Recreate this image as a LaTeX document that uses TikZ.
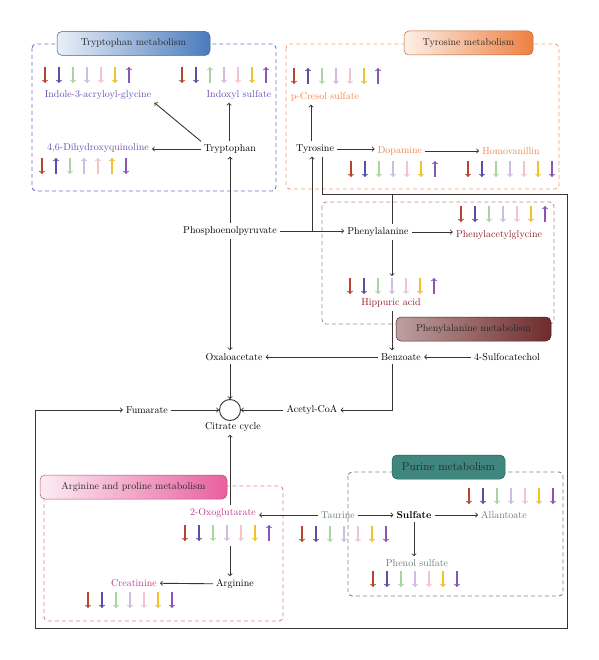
\documentclass[tikz,border=0pt]{standalone}
\usepackage{tikz}
\usetikzlibrary{shapes, arrows}

\definecolor{lnk}{HTML}{3B3331}
\definecolor{mk0}{HTML}{B5452F}
\definecolor{mk1}{HTML}{5B4EA8}
\definecolor{mk2}{HTML}{A9D6A0}
\definecolor{mk3}{HTML}{CDBDE3}
\definecolor{mk4}{HTML}{F2C4CC}
\definecolor{mk5}{HTML}{F2C12E}
\definecolor{mk6}{HTML}{8A55B5}
\definecolor{trpText}{HTML}{6650B0}
\definecolor{tyrText}{HTML}{F0864A}
\definecolor{pheText}{HTML}{8B1E2A}
\definecolor{argText}{HTML}{C0388A}
\definecolor{purText}{HTML}{6B7F72}
\definecolor{trpEdge}{HTML}{7A68C8}
\definecolor{tyrEdge}{HTML}{F4A070}
\definecolor{pheEdge}{HTML}{A89088}
\definecolor{argEdge}{HTML}{D880B0}
\definecolor{purEdge}{HTML}{8A8070}
\definecolor{trpHead}{HTML}{4A7BBE}
\definecolor{tyrHead}{HTML}{EE8040}
\definecolor{pheHead}{HTML}{6E2B2B}
\definecolor{argHead}{HTML}{E8609E}
\definecolor{purHead}{HTML}{2A7A70}

\tikzstyle{met} = [inner sep=3pt, text=black, font=\fontsize{10}{12}\selectfont]
\tikzstyle{trpc} = [met, text=trpText]
\tikzstyle{tyrc} = [met, text=tyrText]
\tikzstyle{phec} = [met, text=pheText]
\tikzstyle{argc} = [met, text=argText]
\tikzstyle{purc} = [met, text=purText]
\tikzstyle{line} = [draw=lnk, line width=0.9pt, ->]
\tikzstyle{wire} = [draw=lnk, line width=0.9pt]
\tikzstyle{frame} = [rounded corners=4pt, line width=0.9pt, dash pattern=on 4pt off 3pt]
\tikzstyle{head} = [rectangle, rounded corners=5pt, line width=0.5pt, minimum height=24pt, text=black!85, font=\fontsize{10}{12}\selectfont]
\tikzstyle{mk} = [line width=1.1pt, ->]

% seven up/down marks centred at (#1,#2), 1 = up, -1 = down
\newcommand{\trend}[3]{%
    \foreach \d [count=\i from 0] in {#3}
        \draw[mk, draw=mk\i] ({#1+(\i-3)*14}, {#2+8*(\d)}) -- ({#1+(\i-3)*14}, {#2-8*(\d)});
}

\begin{document}
\begin{tikzpicture}[x=1pt, y=-1pt, auto]
    \useasboundingbox (0,0) rectangle (598,660);

    % pathway frames
    \draw[frame, trpEdge] (32,44) rectangle (276,191);
    \draw[frame, tyrEdge] (286,44) rectangle (559,189);
    \draw[frame, pheEdge] (322,202) rectangle (554,324);
    \draw[frame, argEdge] (44,486) rectangle (283,621);
    \draw[frame, purEdge] (348,472) rectangle (563,596);

    \node[head, draw=trpHead!80!black, left color=trpHead!12, right color=trpHead, minimum width=153pt] (trpH) at (133.5,43.5) {Tryptophan metabolism};
    \node[head, draw=tyrHead!80!black, left color=tyrHead!12, right color=tyrHead, minimum width=129pt] (tyrH) at (468.5,43) {Tyrosine metabolism};
    \node[head, draw=pheHead!80!black, left color=pheHead!45, middle color=pheHead!8, right color=pheHead, minimum width=155pt] (pheH) at (473.5,329) {Phenylalanine metabolism};
    \node[head, draw=argHead!80!black, left color=argHead!12, right color=argHead, minimum width=187pt] (argH) at (133.5,487) {Arginine and proline metabolism};
    \node[head, draw=purHead!80!black, left color=purHead!90, middle color=purHead!28, right color=purHead!90, minimum width=113pt, font=\fontsize{11.5}{13}\selectfont] (purH) at (448.5,467) {Purine metabolism};

    % compounds
    \node[met] (trp) at (230,149) {Tryptophan};
    \node[trpc] (ind) at (98,95) {Indole-3-acryloyl-glycine};
    \node[trpc] (idx) at (239,95) {Indoxyl sulfate};
    \node[trpc] (dhq) at (98,148) {4,6-Dihydroxyquinoline};
    \node[met] (tyr) at (315,149) {Tyrosine};
    \node[tyrc] (pcs) at (325,97) {p-Cresol sulfate};
    \node[tyrc] (dop) at (400,151) {Dopamine};
    \node[tyrc] (hva) at (511,151) {Homovanillin};
    \node[met] (pep) at (230,231) {Phosphoenolpyruvate};
    \node[met] (phe) at (378,232) {Phenylalanine};
    \node[phec] (pag) at (499,235) {Phenylacetylglycine};
    \node[phec] (hip) at (391,303) {Hippuric acid};
    \node[met] (ben) at (401,357) {Benzoate};
    \node[met] (sfc) at (507,357) {4-Sulfocatechol};
    \node[met] (oxa) at (234,357) {Oxaloacetate};
    \node[circle, draw=lnk, line width=0.9pt, minimum size=21pt, inner sep=0pt] (tca) at (230,410) {};
    \node[met] (tcal) at (233,427) {Citrate cycle};
    \node[met] (fum) at (147,410) {Fumarate};
    \node[met] (aco) at (312,410) {Acetyl-CoA};
    \node[argc] (oxg) at (223,513) {2-Oxoglutarate};
    \node[met] (arg) at (235,584) {Arginine};
    \node[argc] (cre) at (134,583) {Creatinine};
    \node[purc] (tau) at (338,515) {Taurine};
    \node[met, font=\fontsize{10}{12}\selectfont\bfseries] (sul) at (414,515) {Sulfate};
    \node[purc] (all) at (504,515) {Allantoate};
    \node[purc] (phs) at (417,563) {Phenol sulfate};

    % up/down marks
    \trend{87}{75}{-1,-1,-1,-1,-1,-1,1}
    \trend{224}{75}{-1,-1,1,-1,-1,-1,1}
    \trend{84}{166}{-1,1,-1,1,1,1,-1}
    \trend{336}{76}{-1,1,-1,-1,-1,-1,1}
    \trend{393}{169}{-1,-1,-1,-1,-1,-1,1}
    \trend{510}{169}{-1,-1,-1,-1,-1,-1,-1}
    \trend{503}{214}{-1,-1,-1,-1,-1,-1,1}
    \trend{392}{286}{-1,-1,-1,-1,-1,-1,1}
    \trend{227}{533}{-1,-1,-1,-1,-1,-1,1}
    \trend{130}{600}{-1,-1,-1,-1,-1,-1,-1}
    \trend{344}{534}{-1,-1,-1,-1,-1,-1,-1}
    \trend{511}{496}{-1,-1,-1,-1,-1,-1,-1}
    \trend{415}{579}{-1,-1,-1,-1,-1,-1,-1}

    \coordinate (brT) at (312,231);
    \coordinate (jn) at (392,194);
    \coordinate (hipT) at (392,276);
    \coordinate (oxgT) at (230,546);

    % reactions
    \path[line] (trp.north west) -- (ind.south east);
    \path[line] (trp.north -| 229,0) -- (229,0 |- idx.south);
    \path[line] (trp.west) -- (trp.west -| dhq.east);
    \path[line] (pep) -- (trp);
    \path[line] (pep.south -| tca) -- (tca |- oxa.north);
    \path[line] (pep.east) -- (pep.east -| phe.west);
    \path[line] (brT) -- (brT |- tyr.south);
    \path[line] (tyr.north -| 311,0) -- (311,0 |- pcs.south);
    \path[line] (tyr.east) -- (tyr.east -| dop.west);
    \path[line] (dop) -- (hva);
    \path[line] (tyr.south -| 322,0) |- (567,194) -- (567,628) -| (35,410) -- (fum.west);
    \draw[wire] (jn) -- (jn |- phe.north);
    \path[line] (phe.east) -- (phe.east -| pag.west);
    \path[line] (phe.south -| hipT) -- (hipT);
    \path[line] (hip.south -| hipT) -- (hipT |- ben.north);
    \path[line] (sfc) -- (ben);
    \path[line] (ben.west) -- (ben.west -| oxa.east);
    \path[line] (ben.south -| hipT) |- (aco.east);
    \path[line] (oxa.south -| tca) -- (tca);
    \path[line] (fum) -- (tca);
    \path[line] (aco) -- (tca);
    \path[line] (tca |- oxg.north) -- (tca |- tcal.south);
    \path[line] (oxgT) -- (oxgT |- arg.north);
    \path[line] (arg) -- (cre);
    \path[line] (tau.west) -- (tau.west -| oxg.east);
    \path[line] (tau) -- (sul);
    \path[line] (sul) -- (all);
    \path[line] (sul.south) -- (sul.south |- phs.north);
\end{tikzpicture}
\end{document}
